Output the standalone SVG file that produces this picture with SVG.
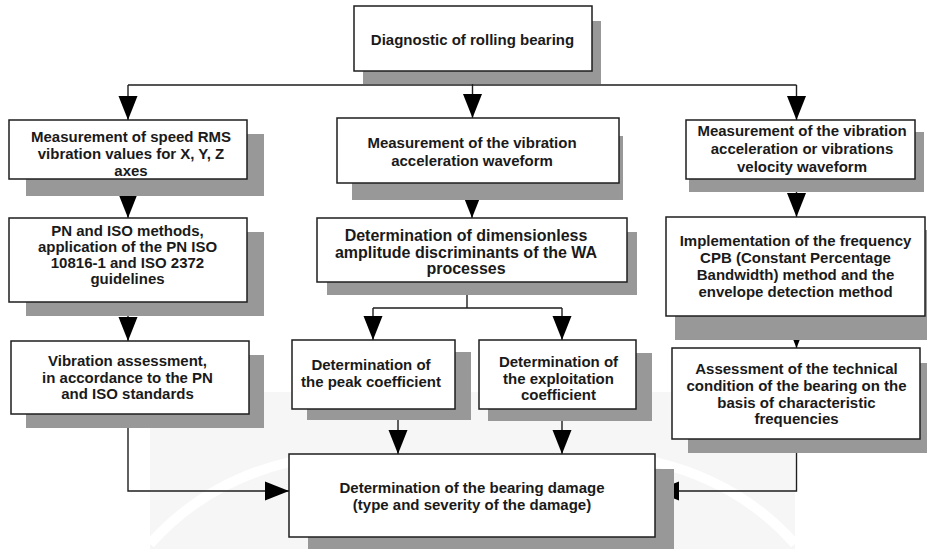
<svg xmlns="http://www.w3.org/2000/svg" width="927" height="549" viewBox="0 0 927 549">
<style>
.bx{fill:#ffffff;stroke:#1e1e1e;stroke-width:1.5}
.sh{fill:#989898}
.t{font-family:"Liberation Sans",Arial,sans-serif;font-size:15px;font-weight:bold;fill:#1a1a1a;text-anchor:middle}
.tl{font-size:16px}
.c{fill:none;stroke:#1e1e1e;stroke-width:1.4}
.wm{fill:#f6f6f6}
</style>
<defs>
<marker id="ah" viewBox="0 -10 25 20" markerWidth="25" markerHeight="20" refX="24" refY="0" orient="auto" markerUnits="userSpaceOnUse">
<path d="M0,-9.5 L24,0 L0,9.5 Z" fill="#000"/>
</marker>
</defs>
<rect width="927" height="549" fill="#ffffff"/>
<g id="watermark">
<rect class="wm" x="150" y="392" width="645" height="157"/>
<path d="M150,544 Q205,482 290,462" fill="none" stroke="#ffffff" stroke-width="10"/>
<path d="M795,544 Q740,482 655,462" fill="none" stroke="#ffffff" stroke-width="10"/>
</g>
<g id="connectors">
<path class="c" d="M472.5,71 V85 M128,85 H796.5"/>
<path class="c" d="M128,85 V120" marker-end="url(#ah)"/>
<path class="c" d="M472.5,85 V118" marker-end="url(#ah)"/>
<path class="c" d="M796.5,85 V120" marker-end="url(#ah)"/>
<path class="c" d="M128,179 V218" marker-end="url(#ah)"/>
<path class="c" d="M128,302 V341" marker-end="url(#ah)"/>
<path class="c" d="M128,414 V491 H289" marker-end="url(#ah)"/>
<path class="c" d="M472,183 V218" marker-end="url(#ah)"/>
<path class="c" d="M467,282 V308 M373,308 H562"/>
<path class="c" d="M373,308 V340" marker-end="url(#ah)"/>
<path class="c" d="M562,308 V340" marker-end="url(#ah)"/>
<path class="c" d="M398,409 V454" marker-end="url(#ah)"/>
<path class="c" d="M562,409 V454" marker-end="url(#ah)"/>
<path class="c" d="M796.5,179 V217" marker-end="url(#ah)"/>
<path class="c" d="M796.5,316 V348" marker-end="url(#ah)"/>
<path class="c" d="M796.5,439 V491 H655" marker-end="url(#ah)"/>
</g>
<g id="n0">
<rect class="sh" x="363" y="21" width="238" height="63"/>
<rect class="bx" x="354" y="6" width="238" height="65"/>
<text class="t" x="472.5" y="45">Diagnostic of rolling bearing</text>
</g>
<g id="n1">
<rect class="sh" x="26" y="134" width="238" height="62"/>
<rect class="bx" x="9" y="120" width="238" height="59"/>
<text class="t" x="131" y="142">Measurement of speed RMS</text>
<text class="t" x="131" y="159">vibration values for X, Y, Z</text>
<text class="t" x="131" y="176">axes</text>
</g>
<g id="n2">
<rect class="sh" x="26" y="232" width="238" height="84"/>
<rect class="bx" x="9" y="218" width="238" height="84"/>
<text class="t" x="127.5" y="236">PN and ISO methods,</text>
<text class="t" x="127.5" y="252">application of the PN ISO</text>
<text class="t" x="127.5" y="268">10816-1 and ISO 2372</text>
<text class="t" x="127.5" y="284">guidelines</text>
</g>
<g id="n3">
<rect class="sh" x="26" y="355" width="238" height="73"/>
<rect class="bx" x="11" y="341" width="238" height="73"/>
<text class="t" x="127.5" y="366">Vibration assessment,</text>
<text class="t" x="127.5" y="382.5">in accordance to the PN</text>
<text class="t" x="127.5" y="399">and ISO standards</text>
</g>
<g id="n4">
<rect class="sh" x="352" y="136" width="271" height="64"/>
<rect class="bx" x="337" y="118" width="282" height="65"/>
<text class="t" x="472" y="148">Measurement of the vibration</text>
<text class="t" x="472" y="166">acceleration waveform</text>
</g>
<g id="n5">
<rect class="sh" x="327" y="232" width="310" height="63"/>
<rect class="bx" x="317" y="218" width="310" height="64"/>
<text class="t tl" x="466" y="240.5">Determination of dimensionless</text>
<text class="t tl" x="466" y="257.5">amplitude discriminants of the WA</text>
<text class="t tl" x="466" y="274">processes</text>
</g>
<g id="n6">
<rect class="sh" x="307" y="352" width="164" height="68"/>
<rect class="bx" x="292" y="340" width="163" height="69"/>
<text class="t" x="371" y="369.5">Determination of</text>
<text class="t" x="371" y="386.5">the peak coefficient</text>
</g>
<g id="n7">
<rect class="sh" x="488" y="353" width="164" height="68"/>
<rect class="bx" x="479" y="340" width="157" height="69"/>
<text class="t" x="558.5" y="367">Determination of</text>
<text class="t" x="558.5" y="383.5">the exploitation</text>
<text class="t" x="558.5" y="400">coefficient</text>
</g>
<g id="n8">
<rect class="sh" x="689" y="132" width="235" height="60"/>
<rect class="bx" x="686" y="120" width="229" height="59"/>
<text class="t" x="802" y="136">Measurement of the vibration</text>
<text class="t" x="802" y="154">acceleration or vibrations</text>
<text class="t" x="802" y="172">velocity waveform</text>
</g>
<g id="n9">
<rect class="sh" x="675" y="230" width="252" height="110"/>
<rect class="bx" x="666" y="217" width="259" height="99"/>
<text class="t" x="795.5" y="246">Implementation of the frequency</text>
<text class="t" x="795.5" y="263">CPB (Constant Percentage</text>
<text class="t" x="795.5" y="280">Bandwidth) method and the</text>
<text class="t" x="795.5" y="296.5">envelope detection method</text>
</g>
<g id="n10">
<rect class="sh" x="688" y="363" width="239" height="90"/>
<rect class="bx" x="672" y="348" width="248" height="91"/>
<text class="t" x="796.5" y="374">Assessment of the technical</text>
<text class="t" x="796.5" y="391">condition of the bearing on the</text>
<text class="t" x="796.5" y="407.5">basis of characteristic</text>
<text class="t" x="796.5" y="424">frequencies</text>
</g>
<g id="n11">
<rect class="sh" x="308" y="469" width="366" height="80"/>
<rect class="bx" x="289" y="454" width="366" height="83"/>
<text class="t" x="472" y="492.5">Determination of the bearing damage</text>
<text class="t" x="472" y="510">(type and severity of the damage)</text>
</g>
</svg>
